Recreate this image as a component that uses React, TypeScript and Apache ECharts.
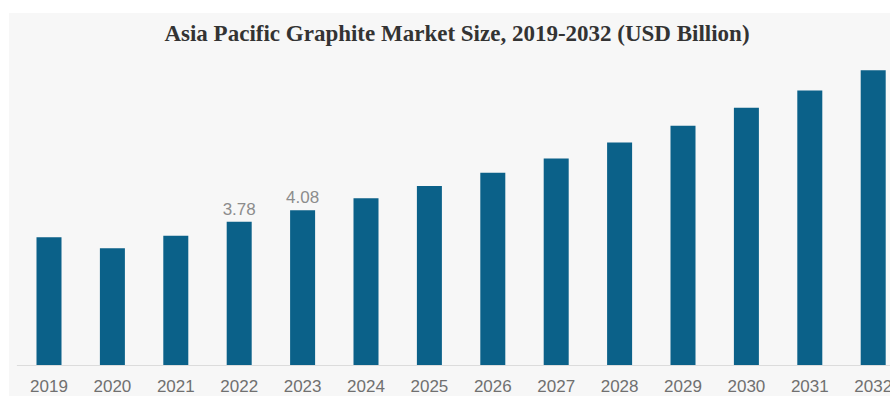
import React, { useEffect, useRef } from "react";
import * as echarts from "echarts";

const years = ["2019", "2020", "2021", "2022", "2023", "2024", "2025", "2026", "2027", "2028", "2029", "2030", "2031", "2032"];
const marketSize = [3.37, 3.08, 3.41, 3.78, 4.08, 4.40, 4.72, 5.07, 5.45, 5.87, 6.31, 6.79, 7.24, 7.78];
const labelledYears = ["2022", "2023"];
const titleText = "Asia Pacific Graphite Market Size, 2019-2032 (USD Billion)";

export default function App() {
  const ref = useRef<HTMLDivElement>(null);
  useEffect(() => {
    if (!ref.current) return;
    const chart = echarts.init(ref.current, null, { renderer: "svg" });
    chart.setOption({
      animation: false,
      backgroundColor: "#ffffff",
      graphic: [
        { type: "rect", z: -10, shape: { x: 9, y: 13, width: 920, height: 400 }, style: { fill: "#f7f7f7" } },
        {
          type: "text", x: 457, y: 33,
          style: { text: titleText, fontFamily: "Liberation Serif", fontWeight: "bold", fontSize: 23, fill: "#333333", textAlign: "center", textVerticalAlign: "middle" },
        },
      ],
      grid: { left: 17.3, top: 61.8, width: 887.6, height: 303.2 },
      xAxis: {
        type: "category",
        data: years,
        axisLine: { show: true, lineStyle: { color: "#dcdcdc", width: 1 } },
        axisTick: { show: false },
        axisLabel: { color: "#707070", fontFamily: "Liberation Sans", fontSize: 17, margin: 13 },
      },
      yAxis: { type: "value", min: 0, max: 8, show: false, splitLine: { show: false } },
      series: [
        {
          type: "bar",
          barWidth: 25,
          itemStyle: { color: "#0b6189" },
          data: marketSize.map((v, i) => ({
            value: v,
            label: {
              show: labelledYears.includes(years[i]),
              position: "top",
              distance: 4,
              color: "#8c8c8c",
              fontFamily: "Liberation Sans",
              fontSize: 17,
            },
          })),
        },
      ],
    });
    return () => chart.dispose();
  }, []);
  return <div ref={ref} style={{ position: "fixed", left: 0, top: 0, width: 930, height: 396 }} />;
}
